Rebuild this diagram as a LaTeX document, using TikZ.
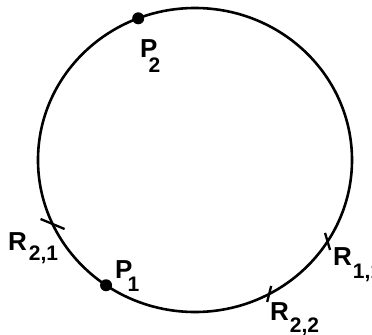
\documentclass[tikz,border=0pt]{standalone}
\usepackage{fontspec}
\usetikzlibrary{calc}
\setmainfont{Liberation Sans}
\newfontfamily\lblfont{Liberation Sans}
\newcommand{\mainlbl}{\lblfont\bfseries\fontsize{26bp}{30bp}\selectfont}
\newcommand{\sublbl}[2][-11bp]{\raisebox{#1}{\fontsize{21bp}{24bp}\selectfont #2}}
\begin{document}
\begin{tikzpicture}[x=1bp,y=-1bp,
  curve/.style={line width=2.6bp},
  tickmark/.style={line width=2.3bp},
  dot/.style={circle,fill=black,inner sep=0pt,minimum size=12bp},
  lbl/.style={anchor=base west,inner sep=0pt,font=\mainlbl}]
\useasboundingbox (0,0) rectangle (372,335);
\clip (0,0) rectangle (372,335);
\draw[curve] (195,160) ellipse [x radius=157, y radius=152];
% points on the curve
\path (195,160) ++(-111.2:157 and 152) coordinate (p2pos);
\path (195,160) ++(124.5:157 and 152) coordinate (p1pos);
\path (195,160) ++(155.1:157 and 152) coordinate (r21);
\path (195,160) ++(32.4:157 and 152) coordinate (r11);
\path (195,160) ++(61.8:157 and 152) coordinate (r22);
\node[dot] (P2) at (p2pos) {};
\node[dot] (P1) at (p1pos) {};
% tick marks
\draw[tickmark] ($(r21)+(-12,-5)$) -- ($(r21)+(12,5)$);
\draw[tickmark] ($(r11)+(-2.5,-8.5)$) -- ($(r11)+(2.5,8.5)$);
\draw[tickmark] ($(r22)+(2,-8)$) -- ($(r22)+(-2,8)$);
% labels
\node[lbl] (lP2) at (140,57) {P\kern-9bp\sublbl[-15bp]{2}};
\node[lbl] (lP1) at (115,278) {P\kern-5bp\sublbl[-13bp]{1}};
\node[lbl] (lR21) at (8,250) {R\kern2bp\sublbl[-10bp]{2,1}};
\node[lbl] (lR11) at (333,265) {R\kern1bp\sublbl[-13bp]{1,1}};
\node[lbl] (lR22) at (270,320) {R\kern1bp\sublbl[-12bp]{2,2}};
\end{tikzpicture}
\end{document}
